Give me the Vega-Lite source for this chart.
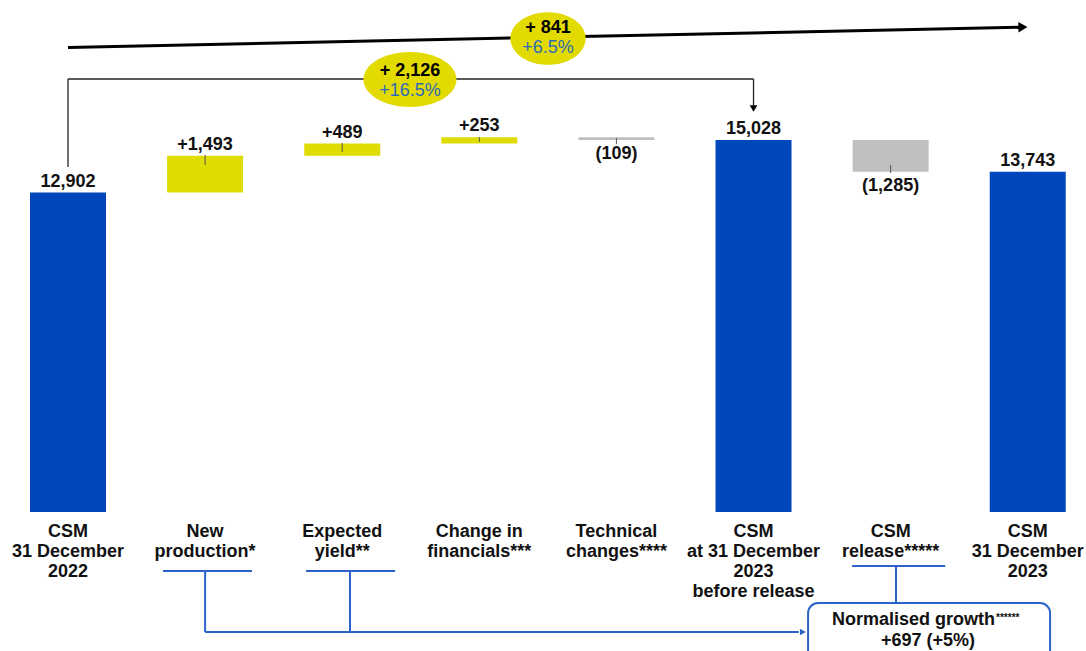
{
  "$schema": "https://vega.github.io/schema/vega-lite/v6.json",
  "width": 1086,
  "height": 651,
  "padding": 0,
  "autosize": {"type": "none"},
  "background": "white",
  "config": {"view": {"stroke": null}, "text": {"font": "Liberation Sans"}},
  "datasets": {
    "bars": [
      {"cat": "CSM 31 December 2022", "x": 0, "y": 12902, "y2": 0, "kind": "total"},
      {"cat": "New production", "x": 1, "y": 14395, "y2": 12902, "kind": "increase"},
      {"cat": "Expected yield", "x": 2, "y": 14884, "y2": 14395, "kind": "increase"},
      {"cat": "Change in financials", "x": 3, "y": 15137, "y2": 14884, "kind": "increase"},
      {"cat": "Technical changes", "x": 4, "y": 15137, "y2": 15028, "kind": "decrease"},
      {"cat": "CSM at 31 December 2023 before release", "x": 5, "y": 15028, "y2": 0, "kind": "total"},
      {"cat": "CSM release", "x": 6, "y": 15028, "y2": 13743, "kind": "decrease"},
      {"cat": "CSM 31 December 2023", "x": 7, "y": 13743, "y2": 0, "kind": "total"}
    ],
    "values": [
      {"x": 0, "y": 12902, "text": "12,902", "pos": "above"},
      {"x": 1, "y": 14395, "text": "+1,493", "pos": "above"},
      {"x": 2, "y": 14884, "text": "+489", "pos": "above"},
      {"x": 3, "y": 15137, "text": "+253", "pos": "above"},
      {"x": 4, "y": 15028, "text": "(109)", "pos": "below"},
      {"x": 5, "y": 15028, "text": "15,028", "pos": "above"},
      {"x": 6, "y": 13743, "text": "(1,285)", "pos": "below"},
      {"x": 7, "y": 13743, "text": "13,743", "pos": "above"}
    ],
    "categories": [
      {"x": 0, "y": -990, "text": "CSM\n31 December\n2022"},
      {"x": 1, "y": -990, "text": "New\nproduction*"},
      {"x": 2, "y": -990, "text": "Expected\nyield**"},
      {"x": 3, "y": -990, "text": "Change in\nfinancials***"},
      {"x": 4, "y": -990, "text": "Technical\nchanges****"},
      {"x": 5, "y": -990, "text": "CSM\nat 31 December\n2023\nbefore release"},
      {"x": 6, "y": -990, "text": "CSM\nrelease*****"},
      {"x": 7, "y": -990, "text": "CSM\n31 December\n2023"}
    ],
    "ticks": [
      {"x": 1, "y": 14422, "y2": 14018},
      {"x": 2, "y": 14906, "y2": 14543},
      {"x": 3, "y": 15149, "y2": 14947},
      {"x": 4, "y": 15109, "y2": 14866},
      {"x": 6, "y": 14018, "y2": 13695}
    ],
    "bracket": [
      {"x": 0, "y": 13937, "x2": 0, "y2": 17492},
      {"x": 0, "y": 17492, "x2": 5, "y2": 17492},
      {"x": 5, "y": 17492, "x2": 5, "y2": 16400}
    ],
    "bracketHead": [{"x": 5, "y": 16300}],
    "trend": [{"x": 0, "y": 18764, "x2": 6.95, "y2": 19586}],
    "trendHead": [{"x": 6.965, "y": 19590}],
    "ellipseA": [{"x": 2.494, "y": 17472}],
    "ellipseB": [{"x": 3.501, "y": 19128}],
    "ellipseText": [
      {"x": 2.494, "y": 17633, "text": "+ 2,126", "kind": "abs"},
      {"x": 2.494, "y": 16825, "text": "+16.5%", "kind": "pct"},
      {"x": 3.501, "y": 19330, "text": "+ 841", "kind": "abs"},
      {"x": 3.501, "y": 18522, "text": "+6.5%", "kind": "pct"}
    ],
    "blueSegs": [
      {"x": 0.693, "y": -2383, "x2": 1.342, "y2": -2383},
      {"x": 1.0, "y": -2383, "x2": 1.0, "y2": -4848},
      {"x": 1.736, "y": -2383, "x2": 2.386, "y2": -2383},
      {"x": 2.057, "y": -2383, "x2": 2.057, "y2": -4848},
      {"x": 1.0, "y": -4848, "x2": 5.33, "y2": -4848},
      {"x": 5.719, "y": -2181, "x2": 6.398, "y2": -2181},
      {"x": 6.039, "y": -2181, "x2": 6.039, "y2": -3676}
    ],
    "blueHead": [{"x": 5.36, "y": -4848}],
    "box": [{"x": 5.398, "x2": 7.163, "y": -3676, "y2": -6500}],
    "boxText": [
      {"x": 6.762, "y": -4545, "text": "Normalised growth", "kind": "title"},
      {"x": 6.273, "y": -5433, "text": "+697 (+5%)", "kind": "value"}
    ],
    "boxStars": [{"x": 6.769, "y": -4403, "text": "******"}]
  },
  "encoding": {
    "x": {"field": "x", "type": "quantitative", "scale": {"domain": [-0.496, 7.425], "nice": false, "zero": false, "padding": 0}, "axis": null},
    "y": {"field": "y", "type": "quantitative", "scale": {"domain": [-5615, 20683], "nice": false, "zero": false, "padding": 0}, "axis": null}
  },
  "layer": [
    {
      "data": {"name": "bars"},
      "mark": {"type": "bar", "width": 76},
      "encoding": {
        "y2": {"field": "y2"},
        "color": {"field": "kind", "type": "nominal", "scale": {"domain": ["total", "increase", "decrease"], "range": ["#0047BB", "#DEDC00", "#BFBFBF"]}, "legend": null}
      }
    },
    {
      "data": {"name": "ticks"},
      "mark": {"type": "rule", "color": "#555555", "strokeWidth": 1},
      "encoding": {"y2": {"field": "y2"}}
    },
    {
      "data": {"name": "values"},
      "transform": [{"filter": "datum.pos === 'above'"}],
      "mark": {"type": "text", "fontSize": 18, "fontWeight": "bold", "color": "#111111", "baseline": "alphabetic", "dy": -6},
      "encoding": {"text": {"field": "text", "type": "nominal"}}
    },
    {
      "data": {"name": "values"},
      "transform": [{"filter": "datum.pos === 'below'"}],
      "mark": {"type": "text", "fontSize": 18, "fontWeight": "bold", "color": "#111111", "baseline": "alphabetic", "dy": 19},
      "encoding": {"text": {"field": "text", "type": "nominal"}}
    },
    {
      "data": {"name": "categories"},
      "mark": {"type": "text", "fontSize": 18, "fontWeight": "bold", "color": "#111111", "baseline": "alphabetic", "lineBreak": "\n", "lineHeight": 20},
      "encoding": {"text": {"field": "text", "type": "nominal"}}
    },
    {
      "data": {"name": "trend"},
      "mark": {"type": "rule", "color": "#000000", "strokeWidth": 3},
      "encoding": {"x2": {"field": "x2"}, "y2": {"field": "y2"}}
    },
    {
      "data": {"name": "trendHead"},
      "mark": {"type": "point", "shape": "triangle-right", "size": 110, "filled": true, "color": "#000000", "opacity": 1, "angle": 358.8}
    },
    {
      "data": {"name": "bracket"},
      "mark": {"type": "rule", "color": "#222222", "strokeWidth": 1.3},
      "encoding": {"x2": {"field": "x2"}, "y2": {"field": "y2"}}
    },
    {
      "data": {"name": "bracketHead"},
      "mark": {"type": "point", "shape": "triangle-down", "size": 60, "filled": true, "color": "#000000", "opacity": 1}
    },
    {
      "data": {"name": "ellipseA"},
      "mark": {"type": "point", "shape": "M1,0C1,0.326 0.552,0.59 0,0.59C-0.552,0.59 -1,0.326 -1,0C-1,-0.326 -0.552,-0.59 0,-0.59C0.552,-0.59 1,-0.326 1,0Z", "size": 8649, "filled": true, "color": "#E3DA00", "opacity": 1, "strokeWidth": 0}
    },
    {
      "data": {"name": "ellipseB"},
      "mark": {"type": "point", "shape": "M1,0C1,0.387 0.552,0.7 0,0.7C-0.552,0.7 -1,0.387 -1,0C-1,-0.387 -0.552,-0.7 0,-0.7C0.552,-0.7 1,-0.387 1,0Z", "size": 5670, "filled": true, "color": "#E3DA00", "opacity": 1, "strokeWidth": 0}
    },
    {
      "data": {"name": "ellipseText"},
      "transform": [{"filter": "datum.kind === 'abs'"}],
      "mark": {"type": "text", "fontSize": 18, "fontWeight": "bold", "color": "#000000", "baseline": "alphabetic"},
      "encoding": {"text": {"field": "text", "type": "nominal"}}
    },
    {
      "data": {"name": "ellipseText"},
      "transform": [{"filter": "datum.kind === 'pct'"}],
      "mark": {"type": "text", "fontSize": 18, "fontWeight": "normal", "color": "#2E6BB8", "baseline": "alphabetic"},
      "encoding": {"text": {"field": "text", "type": "nominal"}}
    },
    {
      "data": {"name": "blueSegs"},
      "mark": {"type": "rule", "color": "#2D62C9", "strokeWidth": 2},
      "encoding": {"x2": {"field": "x2"}, "y2": {"field": "y2"}}
    },
    {
      "data": {"name": "blueHead"},
      "mark": {"type": "point", "shape": "triangle-right", "size": 45, "filled": true, "color": "#2D62C9", "opacity": 1}
    },
    {
      "data": {"name": "box"},
      "mark": {"type": "rect", "fill": "#FFFFFF", "stroke": "#2D62C9", "strokeWidth": 2, "cornerRadius": 10, "clip": true},
      "encoding": {"x2": {"field": "x2"}, "y2": {"field": "y2"}}
    },
    {
      "data": {"name": "boxText"},
      "transform": [{"filter": "datum.kind === 'title'"}],
      "mark": {"type": "text", "fontSize": 18, "fontWeight": "bold", "color": "#111111", "baseline": "alphabetic", "align": "right"},
      "encoding": {"text": {"field": "text", "type": "nominal"}}
    },
    {
      "data": {"name": "boxText"},
      "transform": [{"filter": "datum.kind === 'value'"}],
      "mark": {"type": "text", "fontSize": 18, "fontWeight": "bold", "color": "#111111", "baseline": "alphabetic"},
      "encoding": {"text": {"field": "text", "type": "nominal"}}
    },
    {
      "data": {"name": "boxStars"},
      "mark": {"type": "text", "fontSize": 10, "fontWeight": "bold", "color": "#111111", "baseline": "alphabetic", "align": "left"},
      "encoding": {"text": {"field": "text", "type": "nominal"}}
    }
  ]
}
